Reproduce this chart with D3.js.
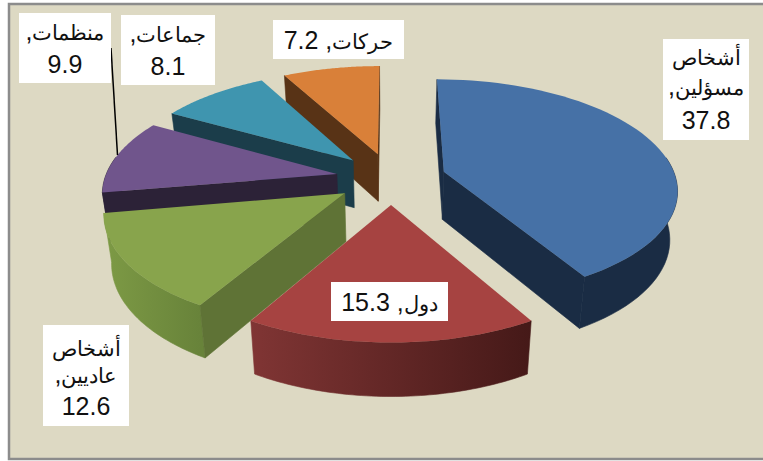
<!DOCTYPE html>
<html>
<head>
<meta charset="utf-8">
<script src="https://cdn.jsdelivr.net/npm/d3@7"></script>
<style>
  html, body { margin: 0; padding: 0; background: #fff; }
  svg { display: block; }
  text { font-family: "Liberation Sans", Arial, sans-serif; fill: #111; }
</style>
</head>
<body>
<div id="chart"></div>
<script>
// chart values, clockwise from 12 o'clock
var categories = ["أشخاص مسؤلين", "دول", "أشخاص عاديين", "منظمات", "جماعات", "حركات"];
var values = [37.8, 15.3, 12.6, 9.9, 8.1, 7.2];
var labelLines = [
    ["أشخاص", "مسؤلين,", "37.8"],
    ["دول, 15.3"],
    ["أشخاص", "عاديين,", "12.6"],
    ["منظمات,", "9.9"],
    ["جماعات,", "8.1"],
    ["حركات, 7.2"]
];

/************ PAGE SET-UP ***************/
var width = 763, height = 461;

var svg = d3.select("#chart").append("svg")
    .attr("width", width)
    .attr("height", height);

svg.append("rect")
    .attr("x", 9).attr("y", 4)
    .attr("width", width).attr("height", 455)
    .attr("fill", "#ddd9c3")
    .attr("stroke", "#8c8c8c")
    .attr("stroke-width", 2.5);

// slice colours: top face, radial wall, outer wall left and right
var colors = [
    { top: "#4671a6", wall: "#1a2c44", left: "#1a2c44", right: "#1a2c44" },
    { top: "#a64341", wall: "#5a2221", left: "#803534", right: "#451918" },
    { top: "#88a44c", wall: "#5f7336", left: "#7d9a45", right: "#68833a" },
    { top: "#70558c", wall: "#2c2237", left: "#2c2237", right: "#2c2237" },
    { top: "#3f95af", wall: "#1b3d4a", left: "#1b3d4a", right: "#1b3d4a" },
    { top: "#d98039", wall: "#583316", left: "#583316", right: "#583316" }
];

// white label boxes [x, y, w, h] and the text baselines inside them
var labelBoxes = [
    { x: 663, y: 39, w: 86, h: 101, base: [65, 95, 129] },
    { x: 331, y: 282, w: 117, h: 39, base: [311] },
    { x: 43, y: 325, w: 86, h: 101, base: [356, 383, 415] },
    { x: 19, y: 13, w: 92, h: 70, base: [40, 73] },
    { x: 121, y: 15, w: 94, h: 70, base: [42, 75] },
    { x: 273, y: 20, w: 131, h: 39, base: [49] }
];

/********* 3D PROJECTION OF THE PIE PLANE ************/
var centerX = 391, centerY = 178.3;
var radiusX = 232, radiusY = 108;
var perspective = 0.15, depthPerspective = 0.09;
var thickness = 48;
var explode = 0.238;
var bottomShrink = 0.027; // bottom face is a little narrower than the top

// u, v are pie plane coordinates (v goes away from the viewer), z 0 = top, 1 = bottom
function project(u, v, z) {
    var w = 1 + perspective * v;
    return [
        centerX + (radiusX * u / w) * (1 - bottomShrink * z),
        centerY - radiusY * v / w + z * thickness / (1 + depthPerspective * v)
    ];
}

var pie = d3.pie().sort(null).startAngle(0).endAngle(2 * Math.PI);
var arcs = pie(values);
var line = d3.line();

var defs = svg.append("defs");

var slices = arcs.map(function (d, i) {
    var mid = (d.startAngle + d.endAngle) / 2;
    var ox = explode * Math.sin(mid), oy = explode * Math.cos(mid);
    var angles = d3.range(0, 61).map(function (k) {
        return d.startAngle + (d.endAngle - d.startAngle) * k / 60;
    });
    return { i: i, d: d, ox: ox, oy: oy, angles: angles };
});

// back slices first
slices.sort(function (a, b) { return b.oy - a.oy; });

slices.forEach(function (s) {
    var g = svg.append("g").attr("class", "slice");
    var col = colors[s.i];

    function rim(a, z) {
        return project(s.ox + Math.sin(a), s.oy + Math.cos(a), z);
    }
    var apexTop = project(s.ox, s.oy, 0);
    var apexBottom = project(s.ox, s.oy, 1);
    var a0 = s.d.startAngle, a1 = s.d.endAngle;

    // outer wall, only the front part of the rim
    var front = s.angles.filter(function (a) { return Math.cos(a) < 0.16; });
    if (front.length > 1) {
        var topPts = front.map(function (a) { return rim(a, 0); });
        var botPts = front.map(function (a) { return rim(a, 1); }).reverse();
        var ext = d3.extent(topPts, function (p) { return p[0]; });
        var id = "rim" + s.i;
        var grad = defs.append("linearGradient")
            .attr("id", id)
            .attr("gradientUnits", "userSpaceOnUse")
            .attr("x1", ext[0]).attr("x2", ext[1])
            .attr("y1", 0).attr("y2", 0);
        grad.append("stop").attr("offset", 0).attr("stop-color", col.left);
        grad.append("stop").attr("offset", 1).attr("stop-color", col.right);
        g.append("path")
            .attr("d", line(topPts.concat(botPts)) + "Z")
            .attr("fill", "url(#" + id + ")")
            .attr("stroke", "url(#" + id + ")")
            .attr("stroke-width", 0.6);
    }

    // radial walls: on screen only the ones facing the viewer are drawn
    var startWall = [apexTop, rim(a0, 0), rim(a0, 1), apexBottom];
    var endWall = [apexTop, apexBottom, rim(a1, 1), rim(a1, 0)];
    [startWall, endWall].forEach(function (pts) {
        if (d3.polygonArea(pts) > 0) {
            g.append("path")
                .attr("d", line(pts) + "Z")
                .attr("fill", col.wall)
                .attr("stroke", col.wall)
                .attr("stroke-width", 0.6);
        }
    });

    // top face
    var face = [apexTop].concat(s.angles.map(function (a) { return rim(a, 0); }));
    g.append("path")
        .attr("d", line(face) + "Z")
        .attr("fill", col.top);
});

/********* LABELS ************/
// leader line of the purple slice
svg.append("line")
    .attr("x1", 111).attr("y1", 48)
    .attr("x2", 117.5).attr("y2", 155)
    .attr("stroke", "#000")
    .attr("stroke-width", 1.5);

labelBoxes.forEach(function (box, i) {
    var g = svg.append("g").attr("class", "label").attr("data-name", categories[i]);
    g.append("rect")
        .attr("x", box.x).attr("y", box.y)
        .attr("width", box.w).attr("height", box.h)
        .attr("fill", "#fff");
    labelLines[i].forEach(function (txt, j) {
        var t = g.append("text")
            .attr("x", box.x + box.w / 2)
            .attr("y", box.base[j])
            .attr("text-anchor", "middle")
            .attr("direction", "rtl")
            .style("font-size", "21px");
        // numbers and the comma are larger than the arabic words
        txt.split(/([,\d. ]+)/).forEach(function (part) {
            if (part === "") return;
            t.append("tspan")
                .style("font-size", /[\d,]/.test(part) ? "25px" : "21px")
                .text(part);
        });
    });
});
</script>
</body>
</html>
